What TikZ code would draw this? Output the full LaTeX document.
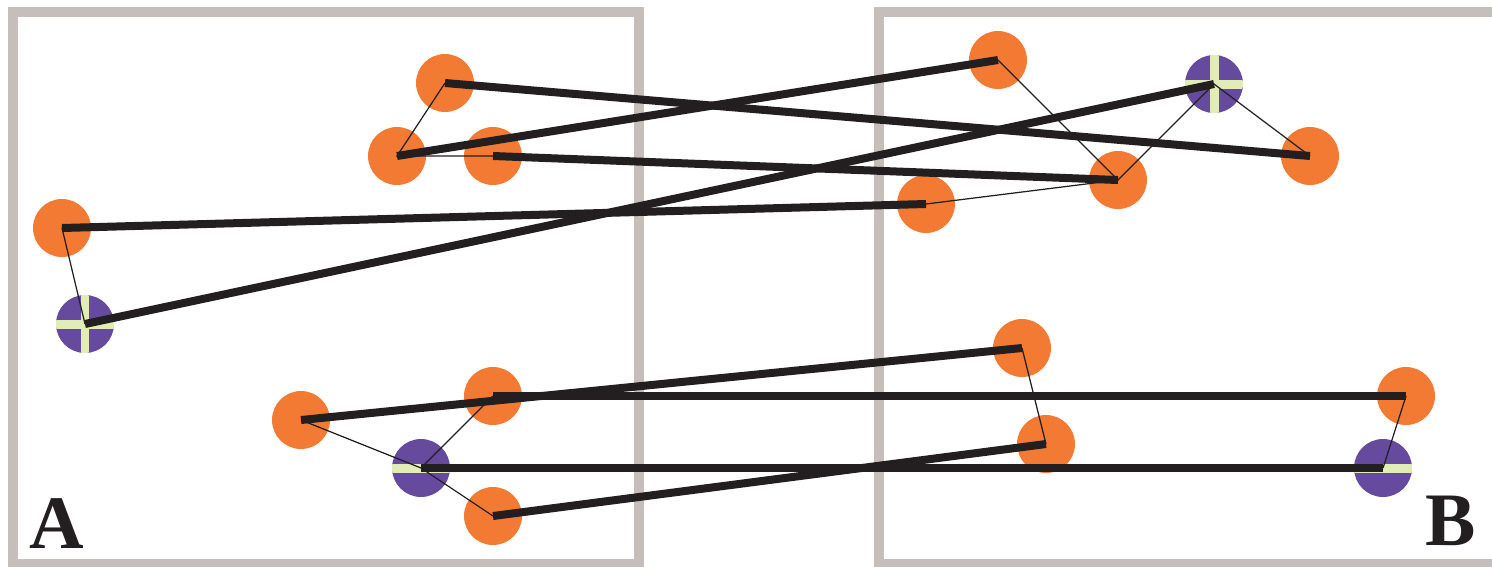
\documentclass[tikz,border=0pt]{standalone}
\usepackage{fontspec}
\setmainfont{Liberation Serif}
\definecolor{dotorange}{HTML}{F37A33}
\definecolor{hubpurple}{HTML}{654A9E}
\definecolor{barcol}{HTML}{E2ECB6}
\definecolor{framecol}{HTML}{C6BEBB}
\definecolor{linecol}{HTML}{231F20}
\tikzset{
  dot/.style={circle, fill=dotorange, minimum size=1.16cm, inner sep=0pt},
  hbar/.style={path picture={\fill[barcol] ([yshift=-0.09cm]path picture bounding box.west) rectangle ([yshift=0.09cm]path picture bounding box.east);}},
  vbar/.style={path picture={\fill[barcol] ([yshift=-0.09cm]path picture bounding box.west) rectangle ([yshift=0.09cm]path picture bounding box.east);
                             \fill[barcol] ([xshift=-0.09cm]path picture bounding box.south) rectangle ([xshift=0.09cm]path picture bounding box.north);}},
  hub/.style={dot, fill=hubpurple},
  link/.style={draw=linecol, line width=0.16cm},
  tie/.style={draw=linecol, line width=0.7pt},
  panel/.style={draw=framecol, line width=0.2cm},
  tag/.style={anchor=base, font=\bfseries\fontsize{43}{43}\selectfont, text=linecol}
}

\begin{document}
\begin{tikzpicture}[x=0.02cm, y=-0.02cm]
\useasboundingbox (0,0) rectangle (1492,566);

\draw[panel] (13,12) rectangle (638.5,564);
\draw[panel] (878.5,12) rectangle (1530,564);

% panel A
\node[dot] (a1) at (445,83) {};
\node[dot] (a2) at (397,156) {};
\node[dot] (a3) at (493,156) {};
\node[dot] (a4) at (62,228) {};
\node[hub, vbar] (a5) at (85,324) {};
\node[dot] (a6) at (301,420) {};
\node[dot] (a7) at (493,396) {};
\node[hub, hbar] (a8) at (421,468) {};
\node[dot] (a9) at (493,516) {};

% panel B
\node[dot] (b1) at (998,60) {};
\node[hub, vbar] (b2) at (1214,84) {};
\node[dot] (b3) at (1310,156) {};
\node[dot] (b4) at (1118,180) {};
\node[dot] (b5) at (926,204) {};
\node[dot] (b6) at (1022,348) {};
\node[dot] (b7) at (1406,396) {};
\node[dot] (b8) at (1046,444) {};
\node[hub, hbar] (b9) at (1383,468) {};

\draw[tie] (a1.center) -- (a2.center) -- (a3.center);
\draw[tie] (a4.center) -- (a5.center);
\draw[tie] (a6.center) -- (a8.center) -- (a9.center);
\draw[tie] (a7.center) -- (a8.center);
\draw[tie] (b1.center) -- (b4.center) -- (b2.center) -- (b3.center);
\draw[tie] (b4.center) -- (b5.center);
\draw[tie] (b6.center) -- (b8.center);
\draw[tie] (b7.center) -- (b9.center);

\draw[link] (a1.center) -- (b3.center);
\draw[link] (a2.center) -- (b1.center);
\draw[link] (a3.center) -- (b4.center);
\draw[link] (a4.center) -- (b5.center);
\draw[link] (a5.center) -- (b2.center);
\draw[link] (a6.center) -- (b6.center);
\draw[link] (a7.center) -- (b7.center);
\draw[link] (a8.center) -- (b9.center);
\draw[link] (a9.center) -- (b8.center);

\node[tag] (labA) at (57,548) {A};
\node[tag] (labB) at (1451,545) {B};
\end{tikzpicture}
\end{document}
